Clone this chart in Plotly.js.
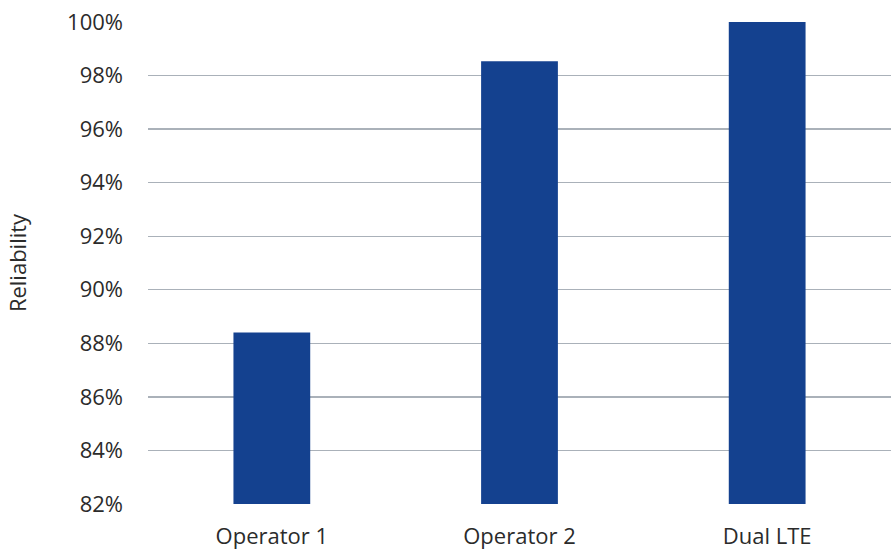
<!DOCTYPE html>
<html><head><meta charset="utf-8">
<script src="https://cdn.plot.ly/plotly-3.0.1.min.js"></script>
<style>html,body{margin:0;padding:0;background:#fff}#chart{width:893px;height:553px}</style>
</head><body><div id="chart"></div>
<script>
const categories = ["Operator 1", "Operator 2", "Dual LTE"];
const reliability = [0.8840, 0.9853, 1.0];
const yTickVals = [0.82, 0.84, 0.86, 0.88, 0.90, 0.92, 0.94, 0.96, 0.98, 1.00];

const trace = {
  type: "bar",
  x: categories,
  y: reliability,
  base: 0,
  width: 0.31,
  marker: {color: "#14418f"},
  hoverinfo: "x+y"
};

const layout = {
  width: 893, height: 553,
  margin: {l: 148, r: 2, t: 22, b: 49},
  paper_bgcolor: "#fff", plot_bgcolor: "#fff",
  font: {family: "Open Sans, Noto Sans, sans-serif", color: "#2b2b2b", size: 22},
  showlegend: false,
  xaxis: {
    showgrid: false, zeroline: false, showline: false, ticks: "",
    ticklabelstandoff: 17,
    tickfont: {size: 22, color: "#2b2b2b"}
  },
  yaxis: {
    range: [0.82, 1.0],
    tickvals: yTickVals,
    tickformat: ".0%",
    showgrid: true, gridcolor: "#aab1b9", gridwidth: 1.3,
    zeroline: false, showline: false, ticks: "",
    ticklabelstandoff: 24,
    tickfont: {size: 22, color: "#2b2b2b"},
    title: {text: "Reliability", font: {size: 22, color: "#2b2b2b"}, standoff: 34}
  }
};

Plotly.newPlot("chart", [trace], layout, {displayModeBar: false, staticPlot: true});
</script></body></html>
